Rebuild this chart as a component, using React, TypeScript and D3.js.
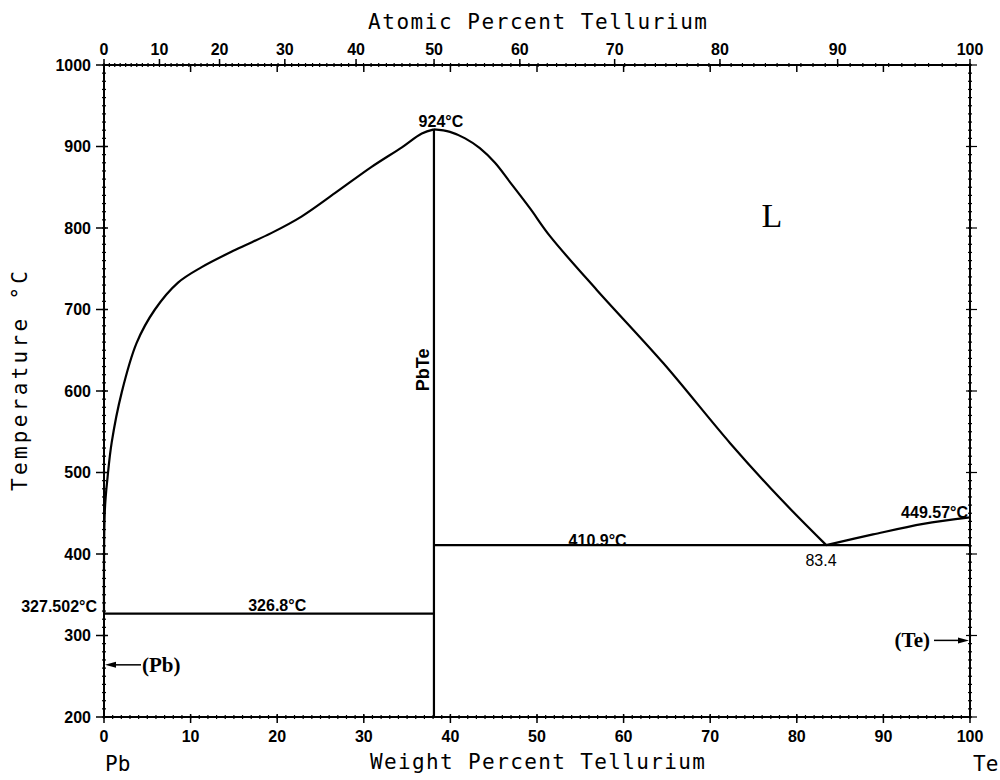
import React from "react";
import * as d3 from "d3";

// ---- data (weight % Te, temperature °C) ----
const leftLiquidusWt = [0, 0.1, 0.42, 0.89, 2.04, 3.77, 5.88, 8.55, 11.28, 15.13, 19.36, 22.8, 26.7, 30.9, 34.4, 36.7, 38.1];
const leftLiquidusT = [327.5, 454, 495, 537, 598, 659, 700, 733, 752, 773, 794, 814, 843, 875, 899, 916, 921];
const rightLiquidusWt = [38.1, 39.95, 41.7, 43.4, 45.15, 46.9, 49.2, 51.5, 56.9, 64.6, 72.3, 78.1, 83.4];
const rightLiquidusT = [921, 918, 910, 898, 880, 856, 824, 790, 724, 634, 536, 468, 410.9];
const teLiquidusWt = [83.4, 88.8, 94.6, 100];
const teLiquidusT = [410.9, 424, 437, 445];
const pbTeWt = 38.1;
const pbTeMeltT = 921;
const monotecticT = 326.8;
const eutecticT = 410.9;
const pbMeltT = 327.502;
const pbArrowT = 264;
const teArrowT = 294;

const tempTicks = [200, 300, 400, 500, 600, 700, 800, 900, 1000];
const wtTicks = [0, 10, 20, 30, 40, 50, 60, 70, 80, 90, 100];
const atTicks = [0, 10, 20, 30, 40, 50, 60, 70, 80, 90, 100];

const M_PB = 207.2;
const M_TE = 127.6;
const atToWt = (a: number) =>
  a <= 0 ? 0 : a >= 100 ? 100 : (100 * a * M_TE) / (a * M_TE + (100 - a) * M_PB);

const W = 1000;
const H = 780;
const x = d3.scaleLinear().domain([0, 100]).range([104, 970]);
const y = d3.scaleLinear().domain([200, 1000]).range([717, 65]);

const zip = (xs: number[], ys: number[]) => xs.map((v, i) => [v, ys[i]] as [number, number]);
const line = d3
  .line<[number, number]>()
  .x((d) => x(d[0]))
  .y((d) => y(d[1]))
  .curve(d3.curveCatmullRom.alpha(0.5));

const sans = "'Liberation Sans', Arial, sans-serif";
const mono = "'DejaVu Sans Mono', monospace";
const serif = "'Liberation Serif', 'Times New Roman', serif";

export default function App() {
  const minorT = d3.range(200, 1001, 10);
  const minorWt = d3.range(0, 101, 1);
  const minorAt = d3.range(0, 101, 1);
  const x0 = x(0), x1 = x(100), y0 = y(200), y1 = y(1000);
  return (
    <svg
      width={W}
      height={H}
      style={{ position: "absolute", left: 0, top: 0, background: "#fff" }}
      xmlns="http://www.w3.org/2000/svg"
    >
      <rect width={W} height={H} fill="#fff" />
      {/* frame */}
      <rect x={x0} y={y1} width={x1 - x0} height={y0 - y1} fill="none" stroke="#000" strokeWidth={2} />

      {/* left & right minor ticks */}
      {minorT.map((t) => (
        <g key={"mt" + t}>
          <line x1={x0 - 2} x2={x0 + 2} y1={y(t)} y2={y(t)} stroke="#000" strokeWidth={1.2} />
          <line x1={x1 - 2} x2={x1 + 2} y1={y(t)} y2={y(t)} stroke="#000" strokeWidth={1.2} />
        </g>
      ))}
      {tempTicks.map((t) => (
        <g key={"Mt" + t}>
          <line x1={x0 - 8} x2={x0 + 4} y1={y(t)} y2={y(t)} stroke="#000" strokeWidth={1.5} />
          <line x1={x1 - 4} x2={x1 + 7} y1={y(t)} y2={y(t)} stroke="#000" strokeWidth={1.2} />
          <text x={91} y={y(t) + 5.5} textAnchor="end" fontFamily={sans} fontWeight="bold" fontSize={16}>
            {t}
          </text>
        </g>
      ))}

      {/* bottom axis: weight percent */}
      {minorWt.map((w) => (
        <line key={"mw" + w} x1={x(w)} x2={x(w)} y1={y0 - 2} y2={y0 + 2} stroke="#000" strokeWidth={1.2} />
      ))}
      {wtTicks.map((w) => (
        <g key={"Mw" + w}>
          <line x1={x(w)} x2={x(w)} y1={y0 - 3} y2={y0 + 6} stroke="#000" strokeWidth={1.5} />
          <text x={x(w)} y={742} textAnchor="middle" fontFamily={sans} fontWeight="bold" fontSize={16}>
            {w}
          </text>
        </g>
      ))}

      {/* top axis: atomic percent with weight-percent inner ticks */}
      {minorAt.map((a) => (
        <line key={"ma" + a} x1={x(atToWt(a))} x2={x(atToWt(a))} y1={y1 - 2} y2={y1 + 2} stroke="#000" strokeWidth={1.2} />
      ))}
      {wtTicks.map((w) => (
        <line key={"tw" + w} x1={x(w)} x2={x(w)} y1={y1} y2={y1 + 7} stroke="#000" strokeWidth={1.5} />
      ))}
      {atTicks.map((a) => (
        <g key={"Ma" + a}>
          <line x1={x(atToWt(a))} x2={x(atToWt(a))} y1={y1 - 6} y2={y1} stroke="#000" strokeWidth={1.5} />
          <text x={x(atToWt(a))} y={55} textAnchor="middle" fontFamily={sans} fontWeight="bold" fontSize={16}>
            {a}
          </text>
        </g>
      ))}

      {/* phase boundaries */}
      <path d={line(zip(leftLiquidusWt, leftLiquidusT)) || ""} fill="none" stroke="#000" strokeWidth={2.2} />
      <path d={line(zip(rightLiquidusWt, rightLiquidusT)) || ""} fill="none" stroke="#000" strokeWidth={2.2} />
      <path d={line(zip(teLiquidusWt, teLiquidusT)) || ""} fill="none" stroke="#000" strokeWidth={2.2} />
      <line x1={x(pbTeWt)} x2={x(pbTeWt)} y1={y(pbTeMeltT)} y2={y0} stroke="#000" strokeWidth={2.2} />
      <line x1={x0} x2={x(pbTeWt)} y1={y(monotecticT)} y2={y(monotecticT)} stroke="#000" strokeWidth={2.2} />
      <line x1={x(pbTeWt)} x2={x1} y1={y(eutecticT)} y2={y(eutecticT)} stroke="#000" strokeWidth={2.2} />

      {/* annotations */}
      <text x={x(pbTeWt) + 7} y={y(pbTeMeltT) - 2} textAnchor="middle" fontFamily={sans} fontWeight="bold" fontSize={16}>
        924°C
      </text>
      <text
        transform={`translate(${x(pbTeWt) - 5},${y(626)}) rotate(-90)`}
        textAnchor="middle"
        fontFamily={sans}
        fontWeight="bold"
        fontSize={18}
      >
        PbTe
      </text>
      <text x={x(20)} y={y(monotecticT) - 3} textAnchor="middle" fontFamily={sans} fontWeight="bold" fontSize={16}>
        326.8°C
      </text>
      <text x={97} y={y(pbMeltT) - 1} textAnchor="end" fontFamily={sans} fontWeight="bold" fontSize={16}>
        327.502°C
      </text>
      <text x={x(57)} y={y(eutecticT) + 1} textAnchor="middle" fontFamily={sans} fontWeight="bold" fontSize={16}>
        410.9°C
      </text>
      <text x={x(82.8)} y={y(eutecticT) + 21} textAnchor="middle" fontFamily={sans} fontSize={16}>
        83.4
      </text>
      <text x={x1 - 2} y={y(445) + 1} textAnchor="end" fontFamily={sans} fontWeight="bold" fontSize={16}>
        449.57°C
      </text>
      <text x={772} y={227} textAnchor="middle" fontFamily={serif} fontSize={34}>
        L
      </text>

      {/* (Pb) arrow */}
      <line x1={x0 + 8} x2={x0 + 37} y1={y(pbArrowT)} y2={y(pbArrowT)} stroke="#000" strokeWidth={1.5} />
      <path
        d={`M${x0 + 1},${y(pbArrowT)} L${x0 + 12},${y(pbArrowT) - 3} L${x0 + 12},${y(pbArrowT) + 3} Z`}
        fill="#000"
      />
      <text x={x0 + 38} y={y(pbArrowT) + 7} fontFamily={serif} fontWeight="bold" fontSize={21}>
        (Pb)
      </text>

      {/* (Te) arrow */}
      <line x1={x1 - 36} x2={x1 - 8} y1={y(teArrowT)} y2={y(teArrowT)} stroke="#000" strokeWidth={1.5} />
      <path
        d={`M${x1 - 1},${y(teArrowT)} L${x1 - 12},${y(teArrowT) - 3} L${x1 - 12},${y(teArrowT) + 3} Z`}
        fill="#000"
      />
      <text x={x1 - 40} y={y(teArrowT) + 7} textAnchor="end" fontFamily={serif} fontWeight="bold" fontSize={21}>
        (Te)
      </text>

      {/* axis titles */}
      <text x={368} y={29} fontFamily={mono} fontSize={21} textLength={339} lengthAdjust="spacing">
        Atomic Percent Tellurium
      </text>
      <text x={370} y={769} fontFamily={mono} fontSize={21} textLength={335} lengthAdjust="spacing">
        Weight Percent Tellurium
      </text>
      <text x={105} y={771} fontFamily={mono} fontSize={21}>
        Pb
      </text>
      <text x={973} y={771} fontFamily={mono} fontSize={21}>
        Te
      </text>
      <text
        transform={`translate(27,${381}) rotate(-90)`}
        textAnchor="middle"
        fontFamily={mono}
        fontSize={21}
        textLength={220}
        lengthAdjust="spacing"
      >
        Temperature °C
      </text>
    </svg>
  );
}
